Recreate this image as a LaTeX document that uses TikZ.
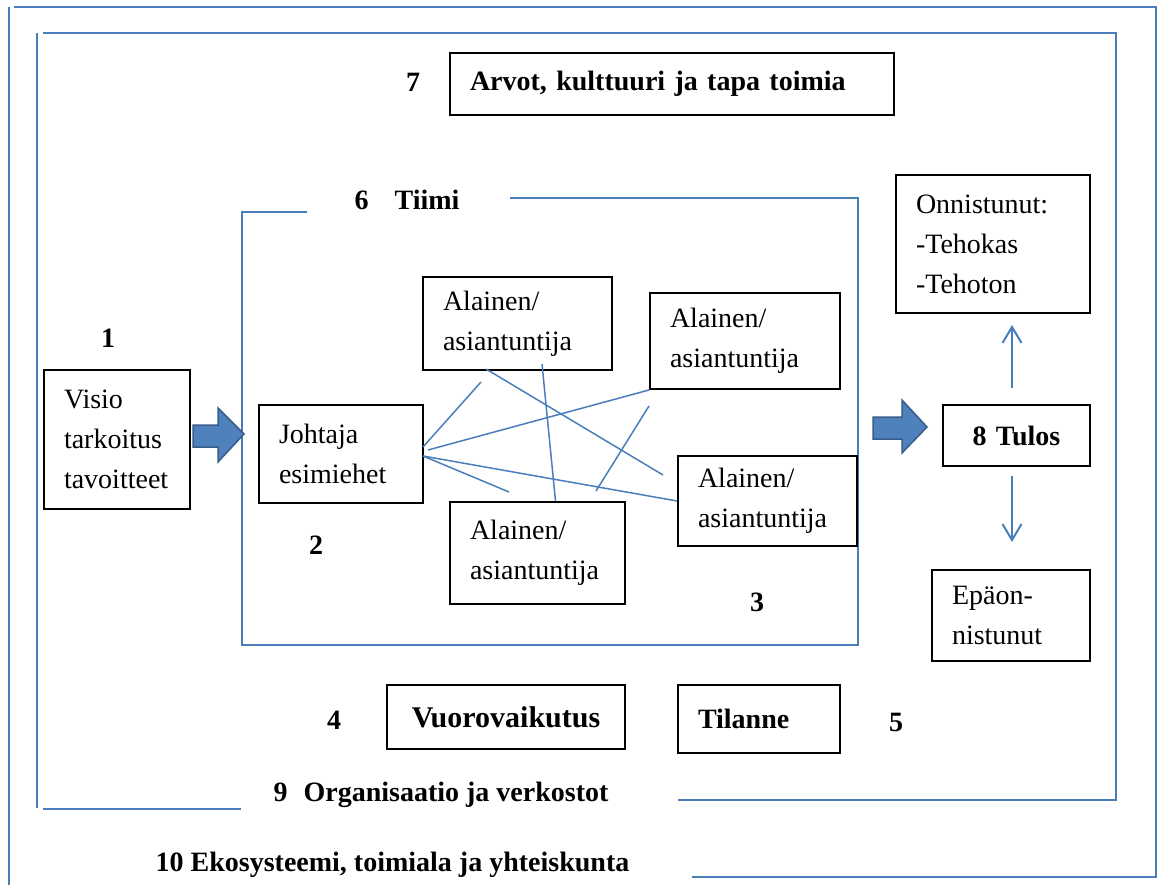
\documentclass[tikz,border=0pt]{standalone}
\usepackage{fontspec}
\setmainfont{Liberation Serif}
\usetikzlibrary{arrows.meta,calc}
\definecolor{frameblue}{HTML}{4A7EBB}
\definecolor{arrowfill}{HTML}{4F81BD}
\definecolor{arrowedge}{HTML}{385D8A}
\begin{document}
\begin{tikzpicture}[x=1pt,y=-1pt,
  every node/.style={font=\fontsize{28}{40}\selectfont},
  box/.style={draw=black, line width=2pt, rectangle, inner xsep=20pt, inner ysep=0pt, align=left},
  boldbox/.style={box, font=\fontsize{28}{34}\selectfont\bfseries},
  lbl/.style={inner sep=0pt, font=\fontsize{28}{34}\selectfont\bfseries},
  frame/.style={draw=frameblue, line width=2pt},
  link/.style={draw=frameblue, line width=1.5pt},
  thinarrow/.style={draw=frameblue, line width=2pt, -{Straight Barb[length=16pt,width=19pt,line width=2pt]}},
  blockarrow/.style={fill=arrowfill, draw=arrowedge, line width=1.5pt, line join=miter}
]
\useasboundingbox (0,0) rectangle (1162,885);

% nested frames: ecosystem, organisation, team
\draw[frame] (9,885) -- (9,7);
\draw[frame] (14,7) -- (1156,7) -- (1156,877) -- (692,877);
\draw[frame] (37,808) -- (37,33);
\draw[frame] (43,33) -- (1116,33) -- (1116,800) -- (678,800);
\draw[frame] (43,809) -- (241,809);
\draw[frame] (307,212) -- (242,212) -- (242,645) -- (858,645) -- (858,198) -- (510,198);

% boxes
\node[boldbox, text width=404pt, minimum height=62pt] (arv) at (672,84) {Arvot, kulttuuri ja tapa toimia};
\node[box, text width=106pt, minimum height=139pt] (vis) at (117,439.5) {Visio\\tarkoitus\\tavoitteet};
\node[box, text width=124pt, minimum height=98pt] (joh) at (341,454) {Johtaja\\esimiehet};
\node[box, text width=149pt, minimum height=93pt] (a1) at (517.5,323.5) {Alainen/\\asiantuntija};
\node[box, text width=150pt, minimum height=96pt] (a2) at (745,341) {Alainen/\\asiantuntija};
\node[box, text width=135pt, minimum height=102pt] (a3) at (537.5,553) {Alainen/\\asiantuntija};
\node[box, text width=139pt, minimum height=90pt] (a4) at (767.5,501) {Alainen/\\asiantuntija};
\node[box, text width=154pt, minimum height=138pt] (onn) at (993,244) {Onnistunut:\\-Tehokas\\-Tehoton};
\node[boldbox, align=center, text width=107pt, minimum height=61pt] (tul) at (1016.5,435.5) {8 Tulos};
\node[box, text width=118pt, minimum height=91pt] (epa) at (1011,615.5) {Epäon-\\nistunut};
\node[boldbox, align=center, text width=198pt, minimum height=64pt] (vuo) at (506,717) {\fontsize{30}{34}\selectfont Vuorovaikutus};
\node[boldbox, text width=122pt, minimum height=68pt] (til) at (759,719) {Tilanne};

% numbered labels
\node[lbl] (n7) at (413,82) {7};
\node[lbl] (n6) at (407,200) {6\hspace{26pt}Tiimi};
\node[lbl] (n1) at (108,338) {1};
\node[lbl] (n2) at (316,545) {2};
\node[lbl] (n3) at (757,602) {3};
\node[lbl] (n4) at (334,720) {4};
\node[lbl] (n5) at (896,722) {5};
\node[lbl] (n9) at (441,795) {9\hspace{16pt}Organisaatio ja verkostot};
\node[lbl] (n10) at (392.5,865) {10 Ekosysteemi, toimiala ja yhteiskunta};

% block arrows into the team and towards the result
\fill[blockarrow] (193,425) -- (218,425) -- (218,408) -- (244,434) -- (218,462) -- (218,447) -- (193,447) -- cycle;
\fill[blockarrow] (873,417) -- (902,417) -- (902,400) -- (927,427) -- (902,453) -- (902,439) -- (873,439) -- cycle;

% result branches
\coordinate (ux) at (1012,0);
\draw[thinarrow, shorten <=16pt, shorten >=11pt] (tul.north -| ux) -- (onn.south -| ux);
\draw[thinarrow, shorten <=9pt, shorten >=27pt] (tul.south -| ux) -- (epa.north -| ux);

% interaction lines inside the team
\coordinate (f1) at (481,382);
\coordinate (f3) at (509,492);
\coordinate (f5a) at (486,369);
\coordinate (f5b) at (663,475);
\coordinate (f6) at (542,364);
\coordinate (f7a) at (649,406);
\coordinate (f7b) at (596,491);
\draw[link] ($(joh.east)+(-1,-7)$) -- (f1);
\draw[link] ($(joh.east)+(4,-4)$) -- (a2.south west);
\draw[link] ($(joh.east)+(-1,2)$) -- (f3);
\draw[link] ($(joh.east)+(-1,2)$) -- (a4.west);
\draw[link] (f5a) -- (f5b);
\draw[link] (f6) -- ($(a3.north)+(18,0)$);
\draw[link] (f7a) -- (f7b);
\end{tikzpicture}
\end{document}
